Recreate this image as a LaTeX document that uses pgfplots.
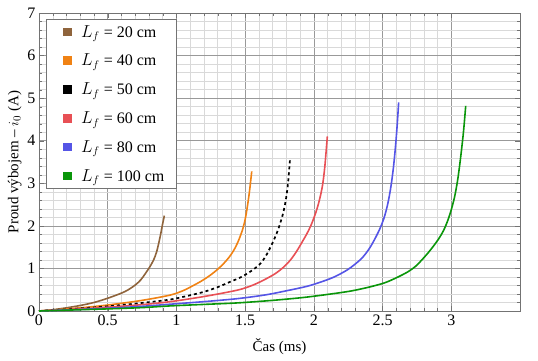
\documentclass[border=0pt]{standalone}
\usepackage{pgfplots}
\pgfplotsset{compat=1.18}
\usepackage{fontspec}
\setmainfont{Liberation Serif}
\definecolor{cbrown}{RGB}{143,100,60}
\definecolor{corange}{RGB}{240,130,20}
\definecolor{cred}{RGB}{232,80,85}
\definecolor{cblue}{RGB}{85,85,230}
\definecolor{cgreen}{RGB}{10,150,10}
\begin{document}
\begin{tikzpicture}
\path[use as bounding box] (-39pt,-49pt) rectangle (499pt,311pt);
\begin{axis}[
  scale only axis, width=481pt, height=298pt,
  at={(0,0)}, anchor=south west,
  xmin=0, xmax=3.5, ymin=0, ymax=7,
  xtick={0,0.5,1,1.5,2,2.5,3}, xticklabels={0,0.5,1,1.5,2,2.5,3},
  ytick={0,1,...,7},
  minor x tick num=4, minor y tick num=4,
  grid=both,
  major grid style={gray!80, line width=0.5pt},
  minor grid style={gray!30, line width=0.4pt},
  axis line style={gray!90!black, line width=0.8pt},
  tick style={gray!90!black},
  tick align=inside,
  major tick length=5pt, minor tick length=3pt,
  /pgf/number format/assume math mode=true,
  ticklabel style={font=\fontsize{16}{16}\selectfont},
  xlabel={Čas (ms)}, ylabel={Proud výbojem -- $i_0$ (A)},
  label style={font=\fontsize{15}{16}\selectfont},
  xlabel style={yshift=-6pt},
  ylabel style={yshift=-1pt},
  legend cell align=left,
  legend style={at={(rel axis cs:0,1)}, anchor=north west, xshift=7pt, yshift=-6pt,
    draw=gray!90!black, font=\fontsize{16}{17}\selectfont,
    row sep=11.5pt, inner xsep=10pt, inner ysep=4pt},
  legend image code/.code={\path[draw=none,fill=none] (0pt,0pt) rectangle (23pt,0.1pt); \fill[#1, solid] (8pt,-3.5pt) rectangle (15pt,3.5pt);},
]
\addplot[cbrown, line width=1.6pt, smooth] coordinates {
(0,0) (0.1,0.03) (0.2,0.075) (0.3,0.13) (0.4,0.2) (0.5,0.3) (0.6,0.42) (0.65,0.5) (0.7,0.61) (0.74,0.73) (0.774,0.88) (0.805,1.03) (0.834,1.2) (0.855,1.38) (0.871,1.59) (0.885,1.80) (0.898,2.02) (0.912,2.24)};
\addlegendentry{$L_f$ = 20 cm}
\addplot[corange, line width=1.6pt, smooth] coordinates {
(0,0) (0.25,0.06) (0.5,0.14) (0.75,0.25) (0.956,0.375) (1.05,0.48) (1.10,0.56) (1.18,0.70) (1.248,0.845) (1.30,0.98) (1.345,1.12) (1.385,1.27) (1.418,1.43) (1.45,1.64) (1.48,1.90) (1.50,2.15) (1.516,2.45) (1.532,2.82) (1.548,3.28)};
\addlegendentry{$L_f$ = 40 cm}
\addplot[black, line width=1.7pt, dash pattern=on 3pt off 3pt, smooth] coordinates {
(0,0) (0.25,0.05) (0.5,0.11) (0.75,0.19) (0.956,0.27) (1.1,0.37) (1.2,0.45) (1.3,0.56) (1.394,0.69) (1.46,0.78) (1.516,0.88) (1.57,1.0) (1.613,1.12) (1.65,1.29) (1.686,1.51) (1.72,1.75) (1.747,1.98) (1.775,2.28) (1.796,2.61) (1.812,3.0) (1.827,3.58)};
\addlegendentry{$L_f$ = 50 cm}
\addplot[cred, line width=1.6pt, smooth] coordinates {
(0,0) (0.25,0.04) (0.5,0.09) (0.75,0.15) (0.956,0.22) (1.2,0.34) (1.443,0.49) (1.55,0.6) (1.637,0.73) (1.72,0.88) (1.783,1.04) (1.835,1.22) (1.88,1.43) (1.92,1.65) (1.95,1.82) (1.98,2.02) (2.015,2.32) (2.04,2.6) (2.063,2.95) (2.08,3.4) (2.098,4.1)};
\addlegendentry{$L_f$ = 60 cm}
\addplot[cblue, line width=1.6pt, smooth] coordinates {
(0,0) (0.25,0.03) (0.5,0.065) (0.75,0.11) (0.956,0.16) (1.2,0.22) (1.443,0.29) (1.65,0.38) (1.808,0.48) (1.95,0.58) (2.05,0.68) (2.148,0.80) (2.25,0.98) (2.343,1.22) (2.4,1.45) (2.44,1.67) (2.48,1.93) (2.513,2.21) (2.54,2.55) (2.562,2.95) (2.58,3.4) (2.595,3.9) (2.607,4.4) (2.617,4.9)};
\addlegendentry{$L_f$ = 80 cm}
\addplot[cgreen, line width=1.6pt, smooth] coordinates {
(0,0) (0.25,0.025) (0.5,0.05) (0.75,0.08) (0.956,0.12) (1.2,0.155) (1.443,0.19) (1.7,0.25) (1.93,0.32) (2.124,0.40) (2.27,0.47) (2.4,0.56) (2.513,0.66) (2.6,0.78) (2.684,0.92) (2.74,1.05) (2.78,1.18) (2.84,1.40) (2.903,1.67) (2.945,1.90) (2.976,2.14) (3.0,2.38) (3.024,2.68) (3.045,3.05) (3.06,3.40) (3.075,3.8) (3.09,4.25) (3.105,4.82)};
\addlegendentry{$L_f$ = 100 cm}
\end{axis}
\end{tikzpicture}
\end{document}
